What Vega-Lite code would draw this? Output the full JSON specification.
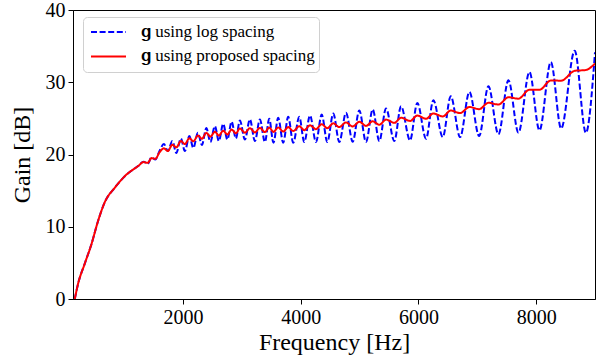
{
  "$schema": "https://vega.github.io/schema/vega-lite/v6.json",
  "width": 522,
  "height": 289,
  "autosize": {"type": "none"},
  "padding": {"left": 73, "top": 10, "right": 13, "bottom": 61},
  "background": "white",
  "config": {
    "view": {"stroke": "black", "strokeWidth": 1},
    "font": "Liberation Serif",
    "axis": {
      "grid": false,
      "domainColor": "black",
      "tickColor": "black",
      "tickSize": 5,
      "labelFont": "Liberation Serif",
      "labelFontSize": 20,
      "labelColor": "black",
      "titleFont": "Liberation Serif",
      "titleFontSize": 24,
      "titleFontWeight": "normal",
      "titleColor": "black"
    },
    "legend": {
      "labelFont": "Liberation Serif",
      "labelFontSize": 17,
      "labelColor": "black",
      "labelLimit": 0
    }
  },
  "data": {
    "values": [
      {"s": "log", "f": 160, "g": 0},
      {"s": "log", "f": 216, "g": 2.1},
      {"s": "log", "f": 330, "g": 4.9},
      {"s": "log", "f": 444, "g": 7.6},
      {"s": "log", "f": 556, "g": 10.8},
      {"s": "log", "f": 670, "g": 13.4},
      {"s": "log", "f": 840, "g": 15.4},
      {"s": "log", "f": 1010, "g": 17.0},
      {"s": "log", "f": 1236, "g": 18.4},
      {"s": "log", "f": 1330, "g": 19.0},
      {"s": "log", "f": 1400, "g": 18.7},
      {"s": "log", "f": 1464, "g": 19.6},
      {"s": "log", "f": 1530, "g": 19.3},
      {"s": "log", "f": 1600, "g": 20.5},
      {"s": "log", "f": 1674, "g": 21.45},
      {"s": "log", "f": 1742, "g": 20.48},
      {"s": "log", "f": 1818, "g": 21.86},
      {"s": "log", "f": 1886, "g": 20.21},
      {"s": "log", "f": 1963, "g": 22.21},
      {"s": "log", "f": 2031, "g": 20.48},
      {"s": "log", "f": 2107, "g": 22.55},
      {"s": "log", "f": 2175, "g": 20.9},
      {"s": "log", "f": 2252, "g": 23.01},
      {"s": "log", "f": 2320, "g": 21.31},
      {"s": "log", "f": 2396, "g": 23.66},
      {"s": "log", "f": 2464, "g": 21.72},
      {"s": "log", "f": 2541, "g": 23.93},
      {"s": "log", "f": 2609, "g": 21.86},
      {"s": "log", "f": 2682, "g": 24.25},
      {"s": "log", "f": 2753, "g": 22.07},
      {"s": "log", "f": 2825, "g": 24.55},
      {"s": "log", "f": 2898, "g": 22.21},
      {"s": "log", "f": 2966, "g": 24.72},
      {"s": "log", "f": 3051, "g": 22.07},
      {"s": "log", "f": 3136, "g": 24.86},
      {"s": "log", "f": 3221, "g": 21.86},
      {"s": "log", "f": 3306, "g": 24.86},
      {"s": "log", "f": 3391, "g": 21.72},
      {"s": "log", "f": 3464, "g": 24.94},
      {"s": "log", "f": 3536, "g": 21.63},
      {"s": "log", "f": 3617, "g": 25.08},
      {"s": "log", "f": 3702, "g": 21.63},
      {"s": "log", "f": 3787, "g": 25.21},
      {"s": "log", "f": 3872, "g": 21.63},
      {"s": "log", "f": 3975, "g": 25.21},
      {"s": "log", "f": 4060, "g": 21.72},
      {"s": "log", "f": 4157, "g": 25.41},
      {"s": "log", "f": 4259, "g": 21.72},
      {"s": "log", "f": 4356, "g": 25.54},
      {"s": "log", "f": 4451, "g": 21.72},
      {"s": "log", "f": 4553, "g": 25.68},
      {"s": "log", "f": 4655, "g": 21.72},
      {"s": "log", "f": 4769, "g": 25.77},
      {"s": "log", "f": 4883, "g": 21.77},
      {"s": "log", "f": 4995, "g": 26.1},
      {"s": "log", "f": 5109, "g": 21.72},
      {"s": "log", "f": 5223, "g": 26.23},
      {"s": "log", "f": 5335, "g": 21.86},
      {"s": "log", "f": 5449, "g": 26.37},
      {"s": "log", "f": 5590, "g": 21.86},
      {"s": "log", "f": 5704, "g": 26.69},
      {"s": "log", "f": 5857, "g": 21.96},
      {"s": "log", "f": 5981, "g": 27.14},
      {"s": "log", "f": 6129, "g": 22.18},
      {"s": "log", "f": 6253, "g": 27.52},
      {"s": "log", "f": 6413, "g": 22.41},
      {"s": "log", "f": 6549, "g": 28.07},
      {"s": "log", "f": 6708, "g": 22.41},
      {"s": "log", "f": 6866, "g": 28.66},
      {"s": "log", "f": 7031, "g": 22.55},
      {"s": "log", "f": 7189, "g": 29.45},
      {"s": "log", "f": 7359, "g": 22.79},
      {"s": "log", "f": 7529, "g": 30.28},
      {"s": "log", "f": 7699, "g": 23.01},
      {"s": "log", "f": 7886, "g": 31.42},
      {"s": "log", "f": 8056, "g": 23.34},
      {"s": "log", "f": 8250, "g": 32.8},
      {"s": "log", "f": 8425, "g": 23.59},
      {"s": "log", "f": 8655, "g": 34.37},
      {"s": "log", "f": 8845, "g": 23.01},
      {"s": "log", "f": 9000, "g": 34.14},
      {"s": "prop", "f": 160, "g": 0},
      {"s": "prop", "f": 216, "g": 2.1},
      {"s": "prop", "f": 330, "g": 4.9},
      {"s": "prop", "f": 444, "g": 7.6},
      {"s": "prop", "f": 556, "g": 10.8},
      {"s": "prop", "f": 670, "g": 13.4},
      {"s": "prop", "f": 840, "g": 15.4},
      {"s": "prop", "f": 1010, "g": 17.0},
      {"s": "prop", "f": 1236, "g": 18.4},
      {"s": "prop", "f": 1330, "g": 18.95},
      {"s": "prop", "f": 1400, "g": 18.85},
      {"s": "prop", "f": 1464, "g": 19.5},
      {"s": "prop", "f": 1530, "g": 19.4},
      {"s": "prop", "f": 1600, "g": 20.3},
      {"s": "prop", "f": 1674, "g": 20.85},
      {"s": "prop", "f": 1742, "g": 20.48},
      {"s": "prop", "f": 1818, "g": 21.35},
      {"s": "prop", "f": 1886, "g": 20.99},
      {"s": "prop", "f": 1963, "g": 21.86},
      {"s": "prop", "f": 2031, "g": 21.44},
      {"s": "prop", "f": 2107, "g": 22.24},
      {"s": "prop", "f": 2175, "g": 21.82},
      {"s": "prop", "f": 2252, "g": 22.62},
      {"s": "prop", "f": 2320, "g": 22.19},
      {"s": "prop", "f": 2396, "g": 22.99},
      {"s": "prop", "f": 2464, "g": 22.47},
      {"s": "prop", "f": 2541, "g": 23.15},
      {"s": "prop", "f": 2609, "g": 22.62},
      {"s": "prop", "f": 2682, "g": 23.3},
      {"s": "prop", "f": 2753, "g": 22.77},
      {"s": "prop", "f": 2825, "g": 23.45},
      {"s": "prop", "f": 2898, "g": 22.93},
      {"s": "prop", "f": 2966, "g": 23.6},
      {"s": "prop", "f": 3051, "g": 23.02},
      {"s": "prop", "f": 3136, "g": 23.64},
      {"s": "prop", "f": 3221, "g": 23.06},
      {"s": "prop", "f": 3306, "g": 23.68},
      {"s": "prop", "f": 3391, "g": 23.1},
      {"s": "prop", "f": 3464, "g": 23.72},
      {"s": "prop", "f": 3536, "g": 23.13},
      {"s": "prop", "f": 3617, "g": 23.75},
      {"s": "prop", "f": 3702, "g": 23.17},
      {"s": "prop", "f": 3787, "g": 23.79},
      {"s": "prop", "f": 3872, "g": 23.24},
      {"s": "prop", "f": 3975, "g": 23.91},
      {"s": "prop", "f": 4060, "g": 23.37},
      {"s": "prop", "f": 4157, "g": 24.04},
      {"s": "prop", "f": 4259, "g": 23.51},
      {"s": "prop", "f": 4356, "g": 24.18},
      {"s": "prop", "f": 4451, "g": 23.65},
      {"s": "prop", "f": 4553, "g": 24.32},
      {"s": "prop", "f": 4655, "g": 23.79},
      {"s": "prop", "f": 4769, "g": 24.44},
      {"s": "prop", "f": 4883, "g": 23.88},
      {"s": "prop", "f": 4995, "g": 24.52},
      {"s": "prop", "f": 5109, "g": 23.96},
      {"s": "prop", "f": 5223, "g": 24.6},
      {"s": "prop", "f": 5335, "g": 24.11},
      {"s": "prop", "f": 5449, "g": 24.83},
      {"s": "prop", "f": 5590, "g": 24.38},
      {"s": "prop", "f": 5704, "g": 25.09},
      {"s": "prop", "f": 5857, "g": 24.65},
      {"s": "prop", "f": 5981, "g": 25.39},
      {"s": "prop", "f": 6129, "g": 24.95},
      {"s": "prop", "f": 6253, "g": 25.68},
      {"s": "prop", "f": 6413, "g": 25.27},
      {"s": "prop", "f": 6549, "g": 26.08},
      {"s": "prop", "f": 6708, "g": 25.73},
      {"s": "prop", "f": 6866, "g": 26.58},
      {"s": "prop", "f": 7031, "g": 26.27},
      {"s": "prop", "f": 7189, "g": 27.16},
      {"s": "prop", "f": 7359, "g": 26.92},
      {"s": "prop", "f": 7529, "g": 27.92},
      {"s": "prop", "f": 7699, "g": 27.73},
      {"s": "prop", "f": 7886, "g": 28.96},
      {"s": "prop", "f": 8056, "g": 28.96},
      {"s": "prop", "f": 8250, "g": 30.24},
      {"s": "prop", "f": 8425, "g": 30.22},
      {"s": "prop", "f": 8655, "g": 31.58},
      {"s": "prop", "f": 8845, "g": 31.7},
      {"s": "prop", "f": 9000, "g": 32.6}
    ]
  },
  "mark": {"type": "line", "interpolate": "monotone", "strokeWidth": 2, "clip": true},
  "encoding": {
    "x": {
      "field": "f",
      "type": "quantitative",
      "title": "Frequency [Hz]",
      "scale": {"domain": [130, 9000], "nice": false, "zero": false},
      "axis": {"values": [2000, 4000, 6000, 8000], "format": "d", "labelPadding": 3, "titlePadding": 3, "labelFlush": false}
    },
    "y": {
      "field": "g",
      "type": "quantitative",
      "title": "Gain [dB]",
      "scale": {"domain": [0, 40], "nice": false},
      "axis": {"values": [0, 10, 20, 30, 40], "labelPadding": 3, "titlePadding": 11, "labelFlush": false}
    },
    "color": {
      "field": "s",
      "type": "nominal",
      "scale": {"domain": ["log", "prop"], "range": ["#0000ff", "#ff0000"]},
      "legend": {
        "title": null,
        "orient": "none",
        "legendX": 10,
        "legendY": 7,
        "symbolType": "stroke",
        "symbolSize": 1225,
        "symbolStrokeWidth": 2,
        "labelOffset": 14,
        "clipHeight": 22,
        "rowPadding": 2.4,
        "padding": 4,
        "symbolOffset": 3,
        "strokeColor": "#d0d0d0",
        "fillColor": "white",
        "cornerRadius": 4,
        "labelExpr": "datum.label == 'log' ? '𝐠 using log spacing' : '𝐠 using proposed spacing'"
      }
    },
    "strokeDash": {
      "field": "s",
      "type": "nominal",
      "scale": {"domain": ["log", "prop"], "range": [[6, 2.6], [1, 0]]},
      "legend": null
    }
  }
}
